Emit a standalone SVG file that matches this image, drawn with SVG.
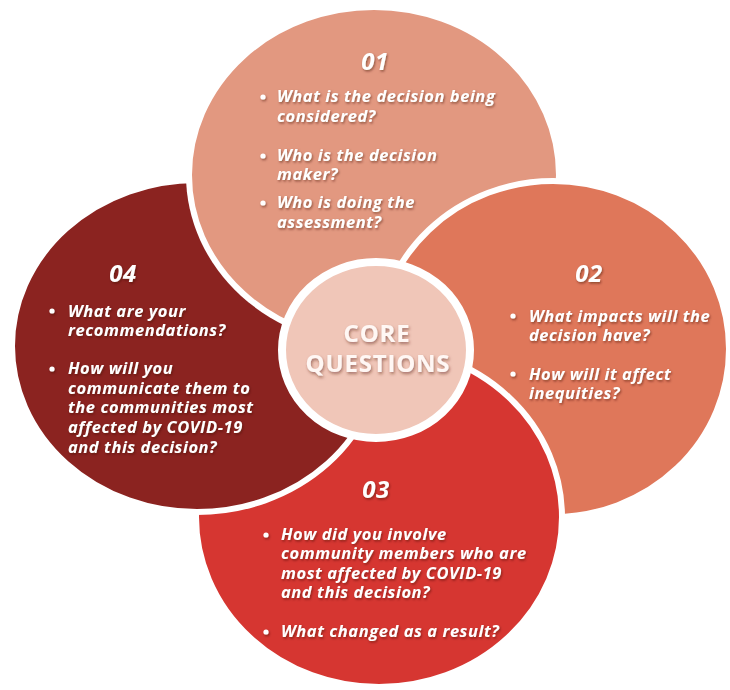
<svg xmlns="http://www.w3.org/2000/svg" width="730" height="690" viewBox="0 0 730 690">
  <style>
    .petal { stroke: #ffffff; stroke-width: 6; }
    .p01 { fill: #E29880; }
    .p02 { fill: #DF775A; }
    .p03 { fill: #D63631; }
    .p04 { fill: #8B2320; }
    .hub { fill: #F0C6B8; stroke: #ffffff; stroke-width: 8; }
    .num { font-family: "Open Sans", "DejaVu Sans", sans-serif; font-weight: 700; font-style: italic; font-size: 24px; fill: #ffffff; text-anchor: middle; letter-spacing: 0.5px; }
    .q { font-family: "Open Sans", "DejaVu Sans", sans-serif; font-weight: 700; font-style: italic; font-size: 16.5px; fill: #ffffff; letter-spacing: 0.55px; }
    .dot { fill: #ffffff; }
    .hubtext { font-family: "Open Sans", "DejaVu Sans", sans-serif; font-weight: 700; font-size: 24px; fill: #FFF7F4; text-anchor: middle; letter-spacing: 0.8px; }
  </style>
  <defs>
    <filter id="soft-shadow" x="-10%" y="-30%" width="120%" height="160%">
      <feDropShadow dx="1" dy="1.5" stdDeviation="1.3" flood-color="#3a0a05" flood-opacity="0.5"/>
    </filter>
    <filter id="hub-shadow" x="-10%" y="-40%" width="120%" height="180%">
      <feDropShadow dx="1" dy="2" stdDeviation="1.8" flood-color="#5a2418" flood-opacity="0.5"/>
    </filter>
    <!-- petal 04 is hidden under petal 01 (and its outline) so 01 reads as lying on top -->
    <mask id="under-01" maskUnits="userSpaceOnUse" x="0" y="0" width="730" height="690">
      <rect x="0" y="0" width="730" height="690" fill="#ffffff"/>
      <ellipse cx="374" cy="175" rx="188" ry="171" fill="#000000"/>
    </mask>
  </defs>

  <g id="node-01">
    <ellipse class="petal p01" cx="374" cy="175" rx="185" ry="168"/>
    <g filter="url(#soft-shadow)">
      <text class="num" x="375" y="70">01</text>
      <circle class="dot" cx="263" cy="97" r="2.6"/>
      <text class="q" x="277" y="102">What is the decision being</text>
      <text class="q" x="277" y="122">considered?</text>
      <circle class="dot" cx="263" cy="156" r="2.6"/>
      <text class="q" x="277" y="161">Who is the decision</text>
      <text class="q" x="277" y="180">maker?</text>
      <circle class="dot" cx="263" cy="203" r="2.6"/>
      <text class="q" x="277" y="208">Who is doing the</text>
      <text class="q" x="277" y="228">assessment?</text>
    </g>
  </g>

  <g id="node-02">
    <ellipse class="petal p02" cx="553" cy="349" rx="176" ry="168"/>
    <g filter="url(#soft-shadow)">
      <text class="num" x="589" y="282">02</text>
      <circle class="dot" cx="513" cy="316" r="2.6"/>
      <text class="q" x="529" y="322">What impacts will the</text>
      <text class="q" x="529" y="341">decision have?</text>
      <circle class="dot" cx="513" cy="374" r="2.6"/>
      <text class="q" x="529" y="380">How will it affect</text>
      <text class="q" x="529" y="399">inequities?</text>
    </g>
  </g>

  <g id="node-03">
    <ellipse class="petal p03" cx="379" cy="517" rx="183" ry="170"/>
    <g filter="url(#soft-shadow)">
      <text class="num" x="376" y="498">03</text>
      <circle class="dot" cx="266" cy="535" r="2.6"/>
      <text class="q" x="281" y="540">How did you involve</text>
      <text class="q" x="281" y="559">community members who are</text>
      <text class="q" x="281" y="579">most affected by COVID-19</text>
      <text class="q" x="281" y="598">and this decision?</text>
      <circle class="dot" cx="266" cy="632" r="2.6"/>
      <text class="q" x="281" y="637">What changed as a result?</text>
    </g>
  </g>

  <g id="node-04">
    <ellipse class="petal p04" cx="197" cy="346" rx="185" ry="166" mask="url(#under-01)"/>
    <g filter="url(#soft-shadow)">
      <text class="num" x="123" y="282">04</text>
      <circle class="dot" cx="52" cy="311" r="2.6"/>
      <text class="q" x="68" y="317">What are your</text>
      <text class="q" x="68" y="336">recommendations?</text>
      <circle class="dot" cx="52" cy="369" r="2.6"/>
      <text class="q" x="68" y="374">How will you</text>
      <text class="q" x="68" y="394">communicate them to</text>
      <text class="q" x="68" y="413">the communities most</text>
      <text class="q" x="68" y="433">affected by COVID-19</text>
      <text class="q" x="68" y="453">and this decision?</text>
    </g>
  </g>

  <g id="node-core">
    <ellipse class="hub" cx="376" cy="350" rx="94" ry="88"/>
    <g filter="url(#hub-shadow)">
      <text class="hubtext" x="377" y="342">CORE</text>
      <text class="hubtext" x="378" y="372">QUESTIONS</text>
    </g>
  </g>
</svg>
